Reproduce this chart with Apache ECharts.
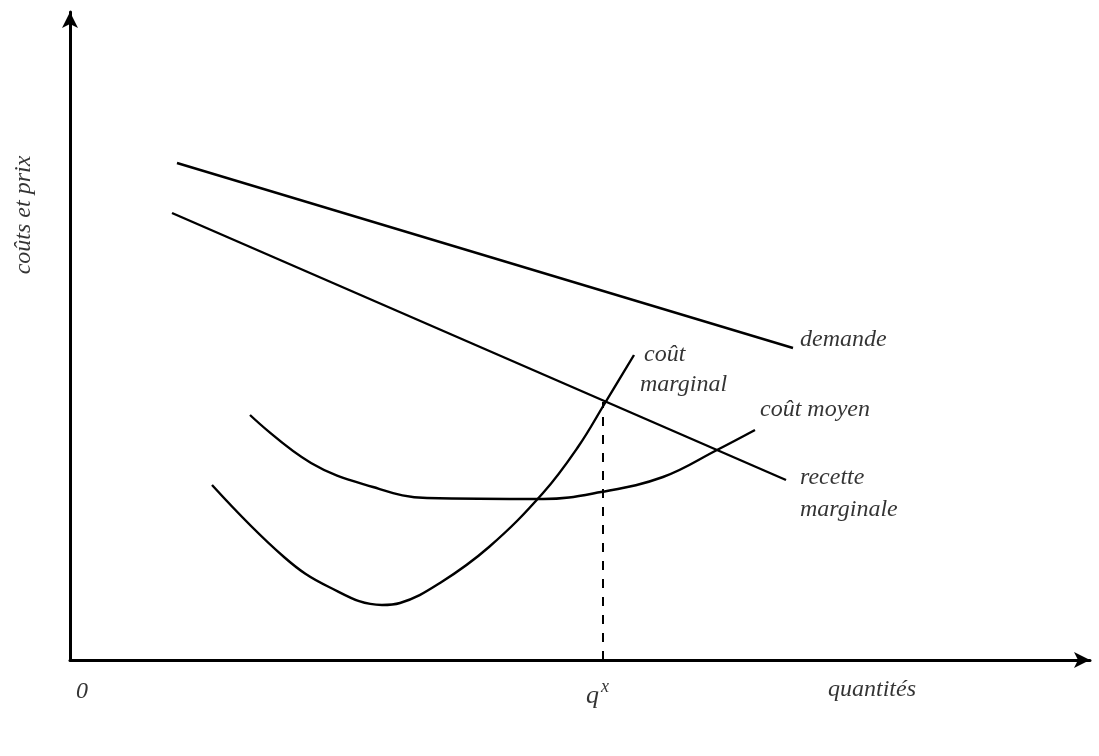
<!DOCTYPE html>
<html><head><meta charset="utf-8">
<script src="https://cdn.jsdelivr.net/npm/echarts@6/dist/echarts.min.js"></script>
<style>html,body{margin:0;padding:0;background:#fff}#c{width:1099px;height:756px}</style>
</head><body><div id="c"></div>
<script>
// data (arbitrary units: quantités on x, coûts et prix on y)
const demande = [[10.7, 49.7], [72.3, 31.2]];
const recetteMarginale = [[10.2, 44.7], [71.6, 18.0]];
const coutMarginal = [[14.2, 17.5], [21.4, 10.3], [25.9, 7.3], [31.2, 5.5], [33.0, 5.7], [37.0, 7.7], [41.9, 11.3], [47.3, 16.7], [50.8, 21.3], [53.5, 25.7], [56.4, 30.5]];
const coutMoyen = [[18.0, 24.5], [24.1, 19.7], [30.3, 17.3], [35.7, 16.2], [47.3, 16.1], [53.1, 16.8], [59.3, 18.3], [64.7, 21.0], [68.5, 23.0]];
const qStar = [[53.3, 0], [53.3, 25.8]];
const labels = [
  {value: [73.0, 32.0], text: 'demande'},
  {value: [57.4, 30.5], text: 'coût'},
  {value: [57.0, 27.5], text: 'marginal'},
  {value: [69.0, 25.0], text: 'coût moyen'},
  {value: [73.0, 18.2], text: 'recette'},
  {value: [73.0, 15.0], text: 'marginale'},
  {value: [75.8, -3.0], text: 'quantités'},
  {value: [0.6, -3.2], text: '0'}
];
const axisTitleY = {value: [-4.6, 44.5], text: 'coûts et prix'};
const qLabel = {value: [51.6, -3.6], text: 'q'};

const font = '"Liberation Serif", "DejaVu Serif", serif';
const lineStyle = {color: '#000', width: 2.4};

const chart = echarts.init(document.getElementById('c'));
chart.setOption({
  backgroundColor: '#fff',
  animation: false,
  grid: {left: 70, right: 9, top: 12, bottom: 96},
  xAxis: {
    type: 'value', min: 0, max: 102,
    axisLine: {show: true, lineStyle: {color: '#000', width: 3}, symbol: ['none', 'arrow'], symbolSize: [12, 16]},
    axisTick: {show: false}, axisLabel: {show: false}, splitLine: {show: false}
  },
  yAxis: {
    type: 'value', min: 0, max: 64.8,
    axisLine: {show: true, lineStyle: {color: '#000', width: 3}, symbol: ['none', 'arrow'], symbolSize: [12, 16]},
    axisTick: {show: false}, axisLabel: {show: false}, splitLine: {show: false}
  },
  series: [
    {type: 'line', data: demande, symbol: 'none', lineStyle: lineStyle},
    {type: 'line', data: recetteMarginale, symbol: 'none', lineStyle: lineStyle},
    {type: 'line', data: coutMarginal, symbol: 'none', smooth: 0.4, lineStyle: lineStyle},
    {type: 'line', data: coutMoyen, symbol: 'none', smooth: 0.4, lineStyle: lineStyle},
    {type: 'line', data: qStar, symbol: 'none', lineStyle: {color: '#000', width: 2, type: [9, 9]}},
    {
      type: 'scatter', clip: false, symbolSize: 0, silent: true,
      data: labels.map(l => ({value: l.value, name: l.text})),
      label: {show: true, position: 'right', distance: 0, formatter: p => p.name,
        fontFamily: font, fontStyle: 'italic', fontSize: 24, color: '#000'}
    },
    {
      type: 'scatter', clip: false, symbolSize: 0, silent: true,
      data: [{value: axisTitleY.value, name: axisTitleY.text}],
      label: {show: true, position: 'inside', rotate: 90, formatter: p => p.name,
        fontFamily: font, fontStyle: 'italic', fontSize: 24, color: '#000'}
    },
    {
      type: 'scatter', clip: false, symbolSize: 0, silent: true,
      data: [{value: qLabel.value, name: qLabel.text}],
      label: {show: true, position: 'right', distance: 0,
        formatter: p => '{a|' + p.name + '}{b|x}',
        rich: {
          a: {fontFamily: font, fontStyle: 'italic', fontSize: 26, color: '#000'},
          b: {fontFamily: font, fontStyle: 'italic', fontSize: 18, color: '#000', verticalAlign: 'top', padding: [0, 0, 18, 2]}
        }}
    }
  ]
});
</script></body></html>
